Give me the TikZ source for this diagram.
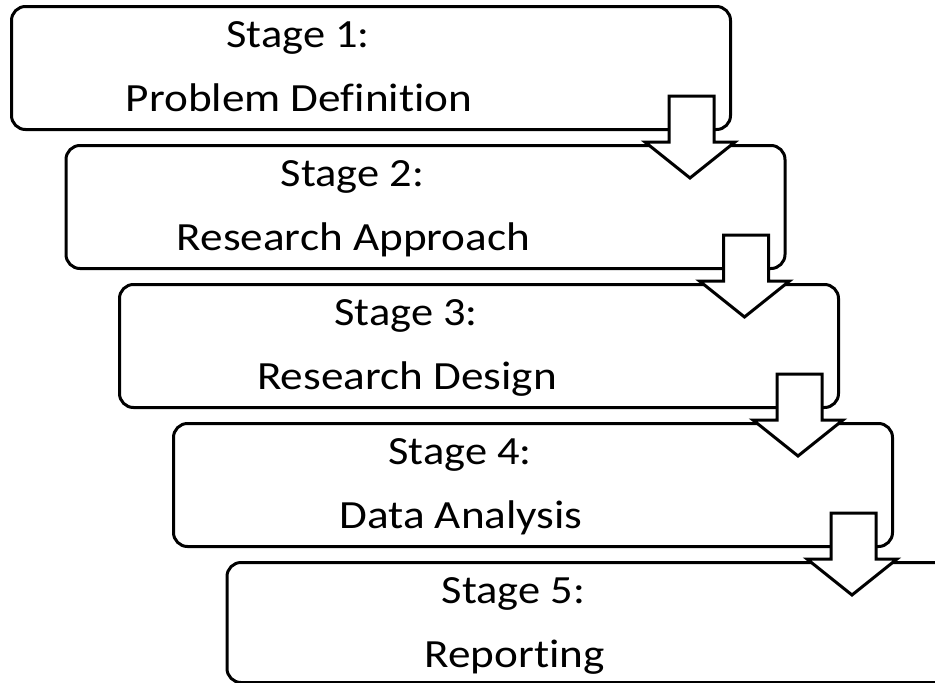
\documentclass[tikz,border=0pt]{standalone}
\usepackage{fontspec}
\setmainfont{Carlito}[Ligatures=NoCommon]
\usetikzlibrary{calc}

\newcommand{\widetext}[1]{\scalebox{1.11}[1]{#1}}

\tikzset{
  stagebox/.style={draw=black, line width=3pt, fill=white, rounded corners=14pt,
    minimum width=719pt, minimum height=123pt, anchor=north west, inner sep=0pt},
  stagetext/.style={anchor=base, inner sep=0pt, font=\fontsize{40}{44}\selectfont, text=black},
  downarrow/.style={draw=black, line width=3pt, fill=white, line join=miter}
}

\begin{document}
\begin{tikzpicture}[x=1pt, y=-1pt]
  \useasboundingbox (0,0) rectangle (935,683);
  \fill[white] (0,0) rectangle (935,683);
  \clip (0,0) rectangle (935,683);

  % the five stage boxes, stepping down to the right
  \node[stagebox] (s1) at (10,5) {};
  \node[stagebox] (s2) at (64.5,144) {};
  \node[stagebox] (s3) at (118,283) {};
  \node[stagebox] (s4) at (172,422) {};
  \node[stagebox, minimum width=760pt, minimum height=120pt] (s5) at (225.5,561) {};

  % stage labels
  \foreach \b/\first/\second in {s1/Stage 1:/Problem Definition,
                                 s2/Stage 2:/Research Approach,
                                 s3/Stage 3:/Research Design,
                                 s4/Stage 4:/Data Analysis,
                                 s5/Stage 5:/Reporting}{
    \node[stagetext] (\b a) at ($(\b.north west)+(288,42)$) {\widetext{\first}};
    \node[stagetext] (\b b) at ($(\b.north west)+(289,106)$) {\scalebox{1.13}[1]{\second}};
  }

  % block arrows leading from each box to the next
  \foreach \b in {s1,s2,s3,s4}{
    \draw[downarrow]
      ($(\b.south east)+(-63,-35)$) -- ($(\b.south east)+(-18,-35)$)
      -- ($(\b.south east)+(-18,11)$) -- ($(\b.south east)+(3,11)$)
      -- ($(\b.south east)+(-42,47)$) -- ($(\b.south east)+(-87,11)$)
      -- ($(\b.south east)+(-63,11)$) -- cycle;
  }
\end{tikzpicture}
\end{document}
